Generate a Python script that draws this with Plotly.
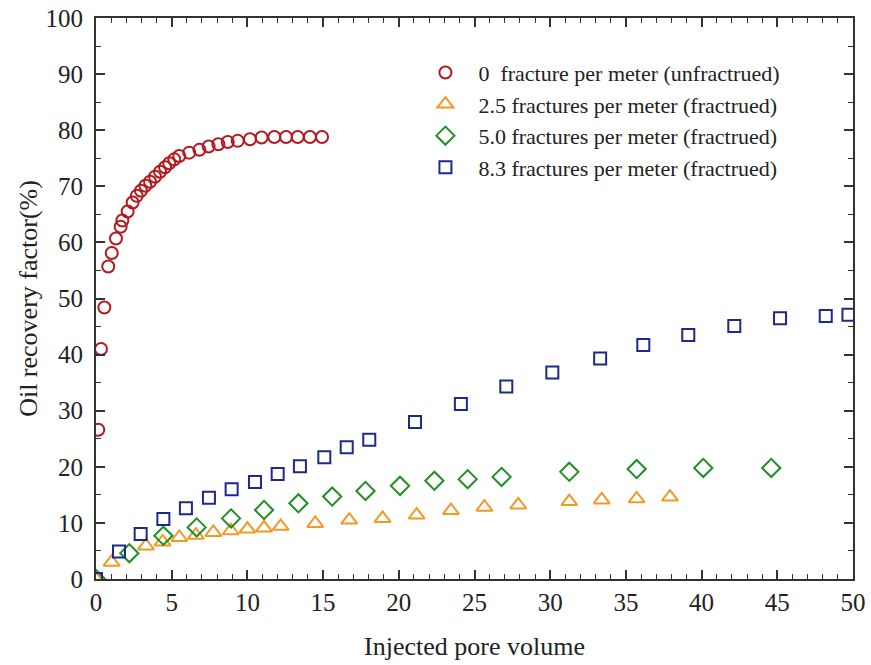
import plotly.graph_objects as go

# Injected pore volume (x) and oil recovery factor in % (y) for each fracture density
pv_0 = [0, 0.15, 0.33, 0.55, 0.81, 1.04, 1.32, 1.63, 1.74, 2.09, 2.42, 2.69, 2.97, 3.26,
        3.57, 3.90, 4.23, 4.56, 4.84, 5.17, 5.50, 6.16, 6.83, 7.44, 8.08, 8.70, 9.36,
        10.17, 10.94, 11.78, 12.55, 13.32, 14.13, 14.93]
rf_0 = [0, 26.6, 41.0, 48.4, 55.7, 58.1, 60.7, 62.8, 63.9, 65.5, 67.1, 68.3, 69.2, 70.1,
        70.8, 71.7, 72.6, 73.4, 74.1, 74.8, 75.4, 76.0, 76.5, 77.1, 77.5, 77.9, 78.1,
        78.4, 78.7, 78.8, 78.8, 78.8, 78.8, 78.8]

pv_25 = [0, 1.03, 3.3, 4.4, 5.5, 6.6, 7.75, 8.9, 10.0, 11.1, 12.2, 14.48, 16.73, 18.93,
         21.18, 23.44, 25.65, 27.89, 31.26, 33.4, 35.71, 37.91]
rf_25 = [0, 3.0, 5.9, 6.6, 7.4, 7.8, 8.3, 8.6, 8.9, 9.1, 9.4, 9.9, 10.5, 10.8,
         11.4, 12.2, 12.8, 13.2, 13.8, 14.1, 14.3, 14.6]

pv_50 = [0, 2.2, 4.45, 6.65, 8.92, 11.1, 13.37, 15.6, 17.8, 20.08, 22.35, 24.55, 26.79,
         31.26, 35.71, 40.11, 44.6]
rf_50 = [0, 4.6, 7.7, 9.2, 10.8, 12.3, 13.5, 14.7, 15.7, 16.6, 17.5, 17.8, 18.2,
         19.1, 19.6, 19.8, 19.8]

pv_83 = [0, 1.52, 2.95, 4.45, 5.94, 7.46, 8.96, 10.5, 12.0, 13.47, 15.08, 16.56, 18.05,
         21.07, 24.1, 27.1, 30.14, 33.3, 36.15, 39.12, 42.16, 45.18, 48.2, 49.7]
rf_83 = [0, 4.9, 8.0, 10.7, 12.6, 14.5, 16.0, 17.3, 18.7, 20.1, 21.7, 23.5, 24.8,
         28.0, 31.2, 34.3, 36.8, 39.3, 41.7, 43.5, 45.1, 46.5, 46.9, 47.1]

series = [
    ("0  fracture per meter (unfractrued)", pv_0, rf_0, "circle-open", "#B3191F", 12),
    ("2.5 fractures per meter (fractrued)", pv_25, rf_25, "triangle-up-open", "#F09A25", 14),
    ("5.0 fractures per meter (fractrued)", pv_50, rf_50, "diamond-open", "#1E8F24", 14),
    ("8.3 fractures per meter (fractrued)", pv_83, rf_83, "square-open", "#1B2A8C", 12),
]

FONT = "Liberation Serif"
INK = "#222222"

fig = go.Figure()
for name, xs, ys, sym, col, sz in series:
    fig.add_trace(go.Scatter(
        x=xs, y=ys, mode="markers", name=name,
        marker=dict(symbol=sym, size=sz, color=col, line=dict(width=2, color=col)),
    ))

axis_common = dict(
    showline=True, linecolor="#333333", linewidth=1.5, mirror="ticks",
    ticks="inside", tickcolor="#333333", tickwidth=1.5, ticklen=9,
    showgrid=False, zeroline=False, automargin=False,
    tickfont=dict(family=FONT, size=25, color=INK),
)

fig.update_xaxes(
    range=[0, 50], dtick=5, tick0=0,
    minor=dict(dtick=1, ticks="inside", ticklen=5, tickcolor="#333333", tickwidth=1.2),
    title=dict(text="Injected pore volume", font=dict(family=FONT, size=26, color=INK),
               standoff=22),
    **axis_common,
)
fig.update_yaxes(
    range=[0, 100], dtick=10, tick0=0, ticksuffix=" ",
    minor=dict(dtick=5, ticks="inside", ticklen=5, tickcolor="#333333", tickwidth=1.2),
    title=dict(text="Oil recovery factor(%)", font=dict(family=FONT, size=26, color=INK),
               standoff=0),
    **axis_common,
)

fig.update_layout(
    width=871, height=665,
    margin=dict(l=96, r=18, t=18, b=86),
    plot_bgcolor="white", paper_bgcolor="white",
    font=dict(family=FONT, color=INK),
    showlegend=True,
    legend=dict(
        x=0.418, y=0.94, xanchor="left", yanchor="top",
        bgcolor="rgba(0,0,0,0)", borderwidth=0,
        font=dict(family=FONT, size=22, color=INK),
        itemwidth=56, tracegroupgap=0,
    ),
)

fig.write_html("out.html")
